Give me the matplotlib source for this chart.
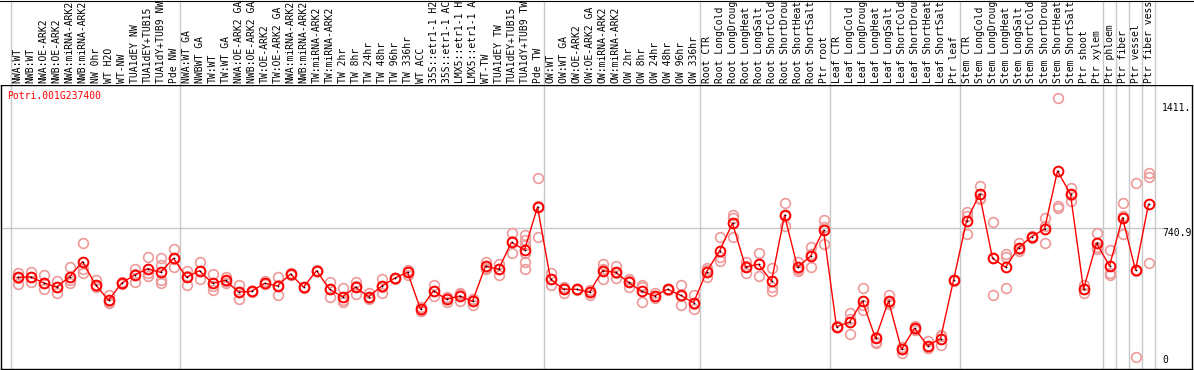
import matplotlib
matplotlib.use("Agg")
import matplotlib.pyplot as plt

gene = "Potri.001G237400"

samples = [
    "NWA:WT", "NWB:WT", "NWA:OE-ARK2", "NWB:OE-ARK2", "NWA:miRNA-ARK2", "NWB:miRNA-ARK2",
    "NW 0hr", "WT H2O", "WT-NW", "TUA1dEY NW", "TUA1dEY+TUB15", "TUA1dY+TUB9 NW", "Pde NW",
    "NWA:WT GA", "NWBWT GA", "TW:WT", "TW:WT GA", "NWA:OE-ARK2 GA", "NWB:OE-ARK2 GA",
    "TW:OE-ARK2", "TW:OE-ARK2 GA", "NWA:miRNA-ARK2", "NWB:miRNA-ARK2", "TW:miRNA-ARK2",
    "TW:miRNA-ARK2", "TW 2hr", "TW 8hr", "TW 24hr", "TW 48hr", "TW 96hr", "TW 336hr", "WT ACC",
    "35S::etr1-1 H2", "35S::etr1-1 AC", "LMX5::etr1-1 H", "LMX5::etr1-1 A", "WT-TW",
    "TUA1dEY TW", "TUA1dEY+TUB15", "TUA1dY+TUB9 TW", "Pde TW",
    "OW:WT", "OW:WT GA", "OW:OE-ARK2", "OW:OE-ARK2 GA", "OW:miRNA-ARK2", "OW:miRNA-ARK2",
    "OW 2hr", "OW 8hr", "OW 24hr", "OW 48hr", "OW 96hr", "OW 336hr",
    "Root CTR", "Root LongCold", "Root LongDroug", "Root LongHeat", "Root LongSalt",
    "Root ShortCold", "Root ShortDrou", "Root ShortHeat", "Root ShortSalt", "Ptr root",
    "Leaf CTR", "Leaf LongCold", "Leaf LongDroug", "Leaf LongHeat", "Leaf LongSalt",
    "Leaf ShortCold", "Leaf ShortDrou", "Leaf ShortHeat", "Leaf ShortSalt", "Ptr leaf",
    "Stem CTR", "Stem LongCold", "Stem LongDroug", "Stem LongHeat", "Stem LongSalt",
    "Stem ShortCold", "Stem ShortDrou", "Stem ShortHeat", "Stem ShortSalt", "Ptr shoot",
    "Ptr xylem", "Ptr phloem", "Ptr fiber", "Ptr vessel", "Ptr fiber vess",
]

# number of samples in each experiment block
groups = [13, 28, 12, 10, 10, 11, 1, 1, 1, 1]

means = [
    478, 481, 449, 425, 481, 562, 439, 355, 446, 491, 523, 505, 580,
    478, 514, 446, 462, 399, 403, 446, 432, 496, 425, 514, 414, 374, 425, 374, 430,
    473, 505, 307, 406, 360, 378, 350, 539, 521, 666, 625, 855,
    468, 414, 414, 398, 514, 505, 451, 403, 378, 414, 382, 342,
    507, 619, 768, 534, 548, 457, 811, 532, 591, 730,
    213, 238, 351, 151, 351, 92, 205, 112, 149, 462,
    780, 923, 580, 532, 637, 696, 737, 1048, 923, 414, 661,
    539, 798, 516, 870,
]

reps = [
    [500, 475, 442], [508, 455, 481], [489, 416, 449], [460, 392, 425], [532, 449, 462],
    [661, 503, 522], [464, 425, 430], [382, 339, 345], [446, 440, 452], [523, 455, 495],
    [586, 485, 500], [580, 544, 464, 446], [628, 535, 577],
    [512, 439, 483], [560, 471, 511], [494, 410, 434], [481, 446, 459], [437, 360, 400],
    [403, 400, 406], [458, 440, 440], [478, 383, 435], [496, 500, 492], [425, 422, 428],
    [514, 510, 518], [455, 414, 371], [419, 347, 356], [455, 389, 431], [396, 362, 365],
    [468, 396, 426], [473, 470, 476], [517, 491, 507], [321, 300, 300], [437, 378, 403],
    [371, 347, 362], [392, 353, 389], [330, 360, 360], [562, 525, 530], [550, 491, 522],
    [714, 610, 674], [705, 678, 651, 607, 562, 521], [1011, 694, 860],
    [500, 437, 467], [396, 420, 426], [414, 410, 418], [410, 383, 401], [550, 471, 521],
    [540, 473, 502], [469, 428, 456], [437, 425, 344], [392, 366, 376], [414, 410, 418],
    [437, 330, 379], [383, 307, 336],
    [527, 478, 516], [696, 586, 566], [812, 795, 693], [562, 500, 540], [607, 485, 552],
    [527, 428, 405], [875, 753, 805], [562, 514, 520], [639, 532, 602], [786, 655, 749],
    [219, 210, 210], [288, 173, 253], [419, 303, 331], [133, 124, 160], [383, 335, 345],
    [106, 74, 96], [217, 200, 198], [138, 98, 100], [169, 115, 163], [464, 460, 462],
    [830, 807, 709], [968, 897, 904], [773, 383, 584], [602, 589, 419], [664, 619, 630],
    [696, 690, 702], [798, 661, 752], [1438, 861, 851], [959, 889, 921], [437, 392, 413],
    [714, 630, 640],
    [625, 500, 491], [875, 710, 809], [982, 53, 513], [1039, 1018, 557],
]

ytick_vals = [0, 740.9, 1411.1]
ytick_text = ["0", "740.9", "1411."]

n = len(samples)
x = list(range(n))
mono = "DejaVu Sans Mono"
red = "#ff0000"
pink = "#ee9a9a"
grid = "#c8c8c8"

W, H = 1194, 370
fig = plt.figure(figsize=(W / 100, H / 100), dpi=100)

# pixel layout: cells of 13 px starting at x=11, plot body between y=85 and y=369
x_lo = (1 - 17.5) / 13
x_hi = (1192 - 17.5) / 13
ax = fig.add_axes([1 / W, 1 / H, 1191 / W, 284 / H])
lab = fig.add_axes([0, 285 / H, 1, 84.5 / H])

bounds = [-0.5]
for g in groups:
    bounds.append(bounds[-1] + g)

ax.set_xlim(x_lo, x_hi)
lab.set_xlim(x_lo - 1 / 13, x_hi + 2 / 13)
for a in (ax, lab):
    for b in bounds:
        a.axvline(b, color=grid, lw=1, zorder=0)
    a.set_xticks([])
    a.set_yticks([])

# labels strip
lab.set_ylim(0, 1)
for k, s in lab.spines.items():
    s.set_visible(k == "top")
lab.spines["top"].set_color("black")
for i, s in enumerate(samples):
    lab.text(i, 2 / 85, s, rotation=90, ha="center", va="bottom",
             fontsize=7, family=mono, color="black", clip_on=True)

# main plot
ax.set_ylim(-13.4, 1509)
for s in ax.spines.values():
    s.set_color("black")
    s.set_linewidth(1)
ax.hlines(ytick_vals[1], x_lo, bounds[-1] + 0.6, color=grid, lw=1, zorder=0)

for i, r in enumerate(reps):
    ax.plot([i] * len(r), r, "o", ms=7, mfc="none", mec=pink, mew=1.2, zorder=2)
ax.plot(x, means, "-", color=red, lw=1, zorder=3)
ax.plot(x, means, "o", ms=7, mfc="none", mec=red, mew=1.4, zorder=4)
ax.plot(x, means, "o", ms=1.3, mew=0, color="black", zorder=5)

ax.text(-0.8, 1450, gene, color=red, fontsize=7, family=mono, ha="left", va="center")
tx = bounds[-1] + 0.55
ax.text(tx, ytick_vals[2], ytick_text[2], fontsize=7, family=mono, ha="left", va="top")
ax.text(tx, ytick_vals[1], ytick_text[1], fontsize=7, family=mono, ha="left", va="top")
ax.text(tx, 10, ytick_text[0], fontsize=7, family=mono, ha="left", va="bottom")

fig.savefig("out.png", dpi=100)
